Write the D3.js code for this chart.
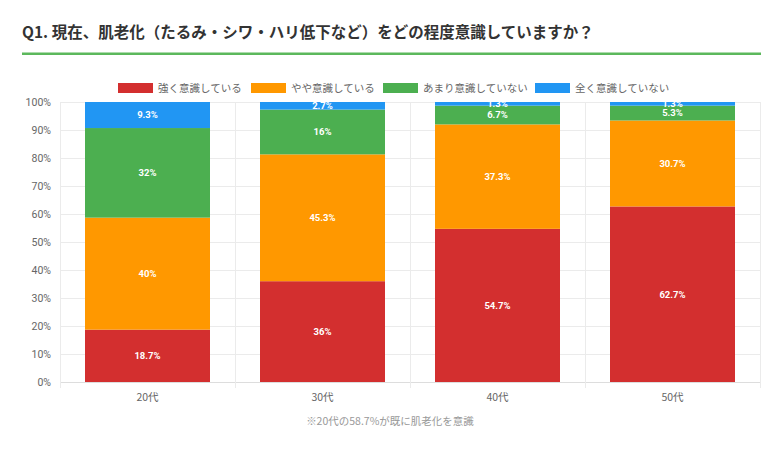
<!DOCTYPE html>
<html><head><meta charset="utf-8">
<script src="https://cdn.jsdelivr.net/npm/d3@7"></script>
<style>
body{margin:0;background:#fff;}
svg{display:block;font-family:"Noto Sans CJK JP","Noto Sans",sans-serif;}
</style></head>
<body><svg id="c" width="780" height="452"></svg>
<script>
const categories = ["20代","30代","40代","50代"];
const seriesNames = ["強く意識している","やや意識している","あまり意識していない","全く意識していない"];
const strong = [18.7, 36, 54.7, 62.7];
const some = [40, 45.3, 37.3, 30.7];
const little = [32, 16, 6.7, 5.3];
const none = [9.3, 2.7, 1.3, 1.3];
const colors = ["#d32f2f","#ff9800","#4caf50","#2196f3"];
const yTicks = [0,10,20,30,40,50,60,70,80,90,100];
const title = "Q1. 現在、肌老化（たるみ・シワ・ハリ低下など）をどの程度意識していますか？";
const footnote = "※20代の58.7%が既に肌老化を意識";

const svg = d3.select("#c");
const m = {l:60, r:760, t:102, b:382};

svg.append("text").attr("x",22).attr("y",38).text(title)
  .attr("font-size",15.5).attr("font-weight","bold").attr("fill","#333");
svg.append("rect").attr("x",22).attr("y",52.5).attr("width",739).attr("height",2.5).attr("fill","#5cb85c");

const x = d3.scaleBand().domain(categories).range([m.l,m.r]).paddingInner(0).paddingOuter(0);
const y = d3.scaleLinear().domain([0,100]).range([m.b,m.t]);

// gridlines
const g = svg.append("g");
g.selectAll(".hy").data(yTicks).join("line")
  .attr("x1",m.l).attr("x2",m.r).attr("y1",d=>y(d)).attr("y2",d=>y(d))
  .attr("stroke",d=>d===0?"#ddd":"#ebebeb").attr("stroke-width",1).attr("shape-rendering","crispEdges");
const vx = categories.map(c=>x(c)).concat([m.r]);
g.selectAll(".vx").data(vx).join("line")
  .attr("x1",d=>d).attr("x2",d=>d).attr("y1",m.t).attr("y2",m.b+6)
  .attr("stroke","#ebebeb").attr("stroke-width",1).attr("shape-rendering","crispEdges");

// y axis labels
svg.append("g").selectAll("text").data(yTicks).join("text")
  .attr("x",51).attr("y",d=>y(d)).attr("dy","0.35em").attr("text-anchor","end")
  .attr("font-size",10.5).attr("fill","#666").attr("font-family","Roboto,'Noto Sans',sans-serif")
  .text(d=>d+"%");

// x labels
svg.append("g").selectAll("text").data(categories).join("text")
  .attr("x",d=>x(d)+x.bandwidth()/2).attr("y",401).attr("text-anchor","middle")
  .attr("font-size",10.5).attr("fill","#666").text(d=>d);

// stack
const rows = categories.map((c,i)=>({cat:c, s0:strong[i], s1:some[i], s2:little[i], s3:none[i]}));
const stack = d3.stack().keys(["s0","s1","s2","s3"])(rows);
const bw = 125;
const defs = svg.append("defs");
defs.append("clipPath").attr("id","clip").append("rect").attr("x",m.l).attr("y",m.t).attr("width",m.r-m.l).attr("height",m.b-m.t);

const bars = svg.append("g");
stack.forEach((layer,k)=>{
  bars.selectAll(".b"+k).data(layer).join("rect")
    .attr("x",d=>x(d.data.cat)+(x.bandwidth()-bw)/2).attr("width",bw)
    .attr("y",d=>y(d[1])).attr("height",d=>y(d[0])-y(d[1]))
    .attr("fill",colors[k]);
});
const labs = svg.append("g").attr("clip-path","url(#clip)");
stack.forEach((layer,k)=>{
  labs.selectAll(".l"+k).data(layer).join("text")
    .attr("x",d=>x(d.data.cat)+x.bandwidth()/2).attr("y",d=>(y(d[0])+y(d[1]))/2)
    .attr("dy","0.35em").attr("text-anchor","middle")
    .attr("font-size",9.5).attr("font-weight","bold").attr("fill","#fff")
    .attr("font-family","Roboto,'Noto Sans',sans-serif")
    .text(d=>(+(d[1]-d[0]).toFixed(1))+"%");
});

// legend
const legX = [118, 251, 383, 535];
const leg = svg.append("g");
seriesNames.forEach((n,i)=>{
  leg.append("rect").attr("x",legX[i]).attr("y",83).attr("width",35).attr("height",10).attr("fill",colors[i]);
  leg.append("text").attr("x",legX[i]+40).attr("y",88).attr("dy","0.35em")
    .attr("font-size",10.5).attr("fill","#666").text(n);
});

svg.append("text").attr("x",390).attr("y",425).attr("text-anchor","middle")
  .attr("font-size",10.5).attr("fill","#999").text(footnote);
</script></body></html>
